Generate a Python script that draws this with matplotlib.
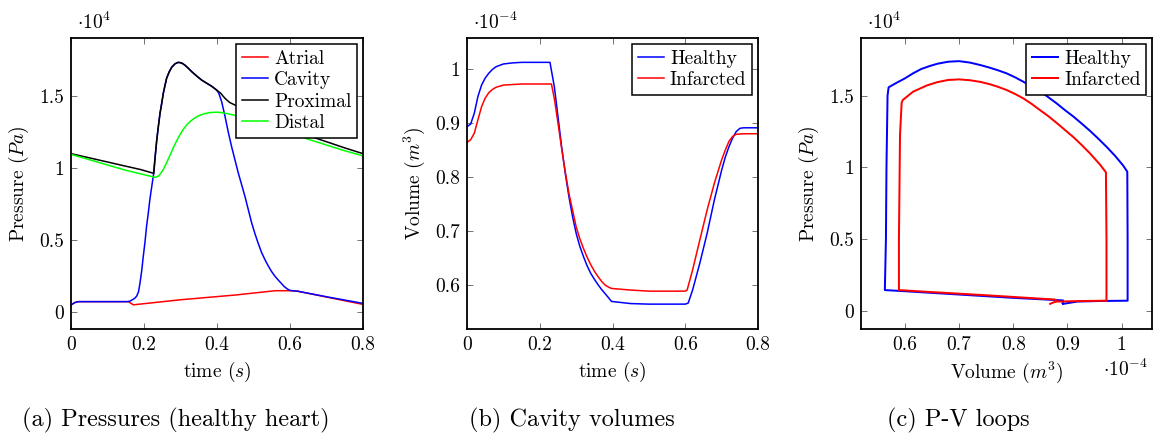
import matplotlib
matplotlib.use("Agg")
import matplotlib.pyplot as plt

plt.rcParams['font.family'] = ['cmr10', 'DejaVu Serif']
plt.rcParams['mathtext.fontset'] = 'cm'
plt.rcParams['axes.unicode_minus'] = False
plt.rcParams['axes.formatter.use_mathtext'] = True

# (a) pressures, healthy heart -- time in s, pressure in 1e4 Pa
t_atrial = [0, 0.01, 0.02, 0.157, 0.171, 0.3, 0.45, 0.56, 0.6, 0.62, 0.7, 0.8]
p_atrial = [0.049, 0.065, 0.072, 0.072, 0.05, 0.085, 0.118, 0.148, 0.148, 0.145, 0.104, 0.053]

t_cavity = [0, 0.01, 0.02, 0.155, 0.162, 0.17, 0.175, 0.18, 0.185, 0.189, 0.194, 0.198,
            0.203, 0.207, 0.212, 0.216, 0.221, 0.226, 0.23, 0.235, 0.24, 0.244, 0.249,
            0.253, 0.258, 0.262, 0.269, 0.276, 0.285, 0.294, 0.303, 0.312, 0.321, 0.331,
            0.345, 0.358, 0.372, 0.385, 0.399, 0.405, 0.413, 0.422, 0.431, 0.44, 0.449,
            0.458, 0.467, 0.477, 0.486, 0.495, 0.504, 0.513, 0.522, 0.532, 0.541, 0.55,
            0.559, 0.568, 0.577, 0.585, 0.593, 0.6, 0.62, 0.7, 0.8]
p_cavity = [0.049, 0.065, 0.072, 0.072, 0.076, 0.088, 0.096, 0.11, 0.14, 0.199, 0.29, 0.384,
            0.49, 0.592, 0.69, 0.778, 0.866, 0.951, 1.06, 1.194, 1.3, 1.38, 1.455,
            1.519, 1.578, 1.623, 1.667, 1.70, 1.724, 1.734, 1.73, 1.715, 1.694, 1.669,
            1.638, 1.611, 1.589, 1.569, 1.542, 1.52, 1.46, 1.36, 1.25, 1.15, 1.06,
            0.97, 0.89, 0.80, 0.71, 0.62, 0.545, 0.477, 0.415, 0.361, 0.318, 0.28,
            0.248, 0.222, 0.197, 0.175, 0.16, 0.15, 0.145, 0.106, 0.06]

t_proximal = [0, 0.05, 0.1, 0.148, 0.19, 0.227, 0.23, 0.235, 0.24, 0.244, 0.249, 0.253,
              0.258, 0.262, 0.269, 0.276, 0.285, 0.294, 0.303, 0.312, 0.321, 0.331, 0.345,
              0.358, 0.372, 0.385, 0.399, 0.41, 0.422, 0.435, 0.449, 0.5, 0.55, 0.6, 0.65,
              0.687, 0.75, 0.8]
p_proximal = [1.10, 1.071, 1.042, 1.014, 0.99, 0.963, 1.06, 1.194, 1.3, 1.38, 1.455, 1.519,
              1.578, 1.623, 1.667, 1.70, 1.724, 1.734, 1.73, 1.715, 1.694, 1.669, 1.638,
              1.611, 1.589, 1.569, 1.542, 1.52, 1.484, 1.455, 1.438, 1.37, 1.31, 1.265,
              1.225, 1.194, 1.14, 1.10]

t_distal = [0, 0.148, 0.226, 0.232, 0.24, 0.246, 0.253, 0.26, 0.267, 0.274, 0.28, 0.287,
            0.294, 0.301, 0.308, 0.315, 0.321, 0.328, 0.335, 0.342, 0.349, 0.358, 0.367,
            0.376, 0.385, 0.40, 0.413, 0.43, 0.449, 0.5, 0.55, 0.6, 0.65, 0.7, 0.75, 0.8]
p_distal = [1.095, 0.986, 0.938, 0.935, 0.945, 0.963, 0.99, 1.026, 1.065, 1.103, 1.14, 1.176,
            1.21, 1.242, 1.27, 1.292, 1.31, 1.326, 1.34, 1.352, 1.362, 1.371, 1.378,
            1.383, 1.386, 1.388, 1.385, 1.377, 1.366, 1.33, 1.29, 1.245, 1.20, 1.16,
            1.12, 1.085]

# (b) cavity volumes -- volume in 1e-4 m^3
t_vol_h = [0, 0.01, 0.02, 0.03, 0.04, 0.05, 0.06, 0.07, 0.08, 0.1, 0.125, 0.15, 0.228, 0.24,
           0.25, 0.26, 0.27, 0.28, 0.29, 0.3, 0.31, 0.32, 0.33, 0.34, 0.35, 0.36, 0.37,
           0.38, 0.39, 0.397, 0.45, 0.5, 0.6, 0.608, 0.62, 0.64, 0.66, 0.68, 0.7, 0.71,
           0.72, 0.73, 0.74, 0.75, 0.76, 0.8]
vol_h = [0.893, 0.898, 0.918, 0.949, 0.970, 0.983, 0.992, 0.999, 1.004, 1.009, 1.011, 1.012,
         1.012, 0.967, 0.912, 0.856, 0.807, 0.764, 0.727, 0.696, 0.672, 0.653, 0.636, 0.622,
         0.611, 0.601, 0.592, 0.584, 0.576, 0.570, 0.566, 0.565, 0.565, 0.567, 0.591, 0.641,
         0.696, 0.758, 0.813, 0.837, 0.856, 0.872, 0.884, 0.890, 0.891, 0.891]

t_vol_i = [0, 0.01, 0.02, 0.03, 0.04, 0.05, 0.06, 0.07, 0.08, 0.1, 0.15, 0.232, 0.24, 0.25,
           0.26, 0.27, 0.28, 0.29, 0.3, 0.31, 0.32, 0.33, 0.34, 0.35, 0.36, 0.37, 0.38,
           0.39, 0.397, 0.45, 0.5, 0.6, 0.605, 0.62, 0.64, 0.66, 0.68, 0.7, 0.71, 0.72,
           0.73, 0.74, 0.76, 0.8]
vol_i = [0.864, 0.869, 0.881, 0.906, 0.930, 0.946, 0.956, 0.962, 0.966, 0.970, 0.972, 0.972,
         0.945, 0.90, 0.853, 0.81, 0.77, 0.739, 0.708, 0.686, 0.668, 0.652, 0.638, 0.626,
         0.616, 0.607, 0.60, 0.596, 0.594, 0.591, 0.589, 0.589, 0.591, 0.628, 0.684, 0.739,
         0.789, 0.832, 0.85, 0.866, 0.875, 0.879, 0.880, 0.880]

# (c) P-V loops
pv_vol_h = [0.892, 0.918, 0.96, 1.011, 1.011, 1.0104, 1.003, 0.988, 0.9723, 0.957, 0.9415,
            0.926, 0.9107, 0.895, 0.880, 0.8585, 0.838, 0.8184, 0.803, 0.7877, 0.772, 0.757,
            0.74, 0.72, 0.70, 0.68, 0.66, 0.645, 0.63, 0.615, 0.60, 0.585, 0.570, 0.568,
            0.566, 0.565, 0.563, 0.60, 0.70, 0.80, 0.877, 0.892, 0.891]
pv_p_h = [0.05, 0.066, 0.070, 0.072, 0.50, 0.97, 1.012, 1.08, 1.143, 1.20, 1.255,
          1.306, 1.355, 1.40, 1.446, 1.506, 1.555, 1.597, 1.628, 1.655, 1.676, 1.694,
          1.712, 1.73, 1.74, 1.736, 1.722, 1.705, 1.685, 1.655, 1.62, 1.59, 1.558, 1.50,
          1.0, 0.5, 0.146, 0.138, 0.115, 0.092, 0.077, 0.074, 0.055]

pv_vol_i = [0.868, 0.874, 0.88, 0.93, 0.972, 0.972, 0.971, 0.960, 0.9415, 0.926, 0.9107,
            0.895, 0.880, 0.865, 0.849, 0.834, 0.8184, 0.803, 0.7877, 0.772, 0.757, 0.74,
            0.72, 0.70, 0.68, 0.66, 0.64, 0.615, 0.596, 0.594, 0.591, 0.589, 0.589, 0.65,
            0.75, 0.877, 0.88]
pv_p_i = [0.05, 0.06, 0.066, 0.07, 0.072, 0.5, 0.966, 1.02, 1.098, 1.157, 1.212,
          1.262, 1.31, 1.356, 1.40, 1.442, 1.481, 1.512, 1.539, 1.561, 1.579, 1.595,
          1.607, 1.613, 1.609, 1.594, 1.57, 1.527, 1.469, 1.45, 1.226, 0.5, 0.146, 0.132,
          0.11, 0.08, 0.072]

time_ticks = [0, 0.2, 0.4, 0.6, 0.8]
time_labels = ['0', '0.2', '0.4', '0.6', '0.8']
pres_ticks = [0, 0.5, 1, 1.5]
pres_labels = ['0', '0.5', '1', '1.5']
vol_ticks = [0.6, 0.7, 0.8, 0.9, 1.0]
vol_labels = ['0.6', '0.7', '0.8', '0.9', '1']

captions = ['(a) Pressures (healthy heart)', '(b) Cavity volumes', '(c) P-V loops']

FS = 14
LW = 1.1

fig = plt.figure(figsize=(11.54, 4.36), dpi=100)
ax_a = fig.add_axes([0.0615, 0.2454, 0.2530, 0.6674])
ax_b = fig.add_axes([0.4047, 0.2454, 0.2522, 0.6674])
ax_c = fig.add_axes([0.7461, 0.2454, 0.2524, 0.6674])


def style(ax):
    ax.tick_params(direction='in', top=True, right=True, length=4, width=0.7,
                   color='0.45', labelsize=FS, pad=5)
    for s in ax.spines.values():
        s.set_linewidth(1.3)


def legend(ax):
    leg = ax.legend(loc='upper right', fontsize=FS, fancybox=False, framealpha=1,
                    edgecolor='black', borderaxespad=0.3, handlelength=1.35,
                    handletextpad=0.3, labelspacing=0.18, borderpad=0.3)
    leg.get_frame().set_linewidth(1.1)


# (a)
ax_a.plot(t_atrial, p_atrial, color='red', lw=LW, label='Atrial')
ax_a.plot(t_cavity, p_cavity, color='blue', lw=LW, label='Cavity')
ax_a.plot(t_proximal, p_proximal, color='black', lw=LW, label='Proximal')
ax_a.plot(t_distal, p_distal, color='#00ff00', lw=LW, label='Distal')
ax_a.set_xlim(0, 0.8)
ax_a.set_ylim(-0.118, 1.903)
ax_a.set_xticks(time_ticks, time_labels)
ax_a.set_yticks(pres_ticks, pres_labels)
ax_a.set_xlabel(r'time ($s$)', fontsize=FS, labelpad=4)
ax_a.set_ylabel(r'Pressure ($Pa$)', fontsize=FS, labelpad=6)
ax_a.text(0.02, 1.03, r'$\cdot 10^{4}$', transform=ax_a.transAxes, fontsize=FS)
style(ax_a)
legend(ax_a)

# (b)
ax_b.plot(t_vol_h, vol_h, color='blue', lw=LW, label='Healthy')
ax_b.plot(t_vol_i, vol_i, color='red', lw=LW, label='Infarcted')
ax_b.set_xlim(0, 0.8)
ax_b.set_ylim(0.519, 1.057)
ax_b.set_xticks(time_ticks, time_labels)
ax_b.set_yticks(vol_ticks, vol_labels)
ax_b.set_xlabel(r'time ($s$)', fontsize=FS, labelpad=4)
ax_b.set_ylabel(r'Volume ($m^3$)', fontsize=FS, labelpad=6)
ax_b.text(0.02, 1.03, r'$\cdot 10^{-4}$', transform=ax_b.transAxes, fontsize=FS)
style(ax_b)
legend(ax_b)

# (c)
ax_c.plot(pv_vol_h, pv_p_h, color='blue', lw=LW * 1.3, label='Healthy')
ax_c.plot(pv_vol_i, pv_p_i, color='red', lw=LW * 1.3, label='Infarcted')
ax_c.set_xlim(0.519, 1.0565)
ax_c.set_ylim(-0.125, 1.901)
ax_c.set_xticks(vol_ticks, vol_labels)
ax_c.set_yticks(pres_ticks, pres_labels)
ax_c.set_xlabel(r'Volume ($m^3$)', fontsize=FS, labelpad=4)
ax_c.set_ylabel(r'Pressure ($Pa$)', fontsize=FS, labelpad=6)
ax_c.text(0.02, 1.03, r'$\cdot 10^{4}$', transform=ax_c.transAxes, fontsize=FS)
ax_c.text(0.83, -0.14, r'$\cdot 10^{-4}$', transform=ax_c.transAxes, fontsize=FS,
          va='center')
style(ax_c)
legend(ax_c)

for x, cap in zip([176, 572, 958], captions):
    fig.text(x / 1154, 0.035, cap, ha='center', va='center', fontsize=17.5)

fig.savefig('out.png', dpi=100)
